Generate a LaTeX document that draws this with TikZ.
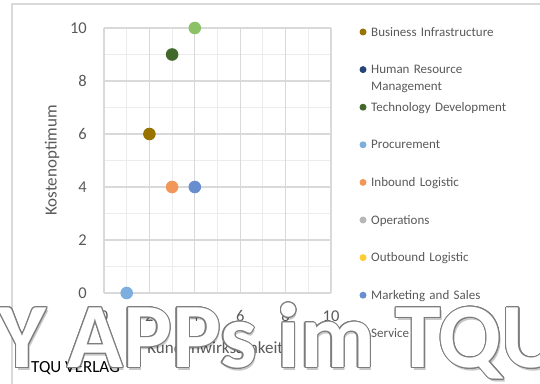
\documentclass[tikz,border=0pt]{standalone}
\usepackage{fontspec}
\setmainfont{Carlito}
\usepackage{xcolor}
\usepackage{tikz}
\usetikzlibrary{positioning,calc}
\definecolor{chartText}{RGB}{89, 89, 89}
\definecolor{gridMajor}{RGB}{217, 217, 217}
\definecolor{gridMinor}{RGB}{236, 236, 236}
\definecolor{wmEdge}{RGB}{125, 125, 125}
\definecolor{serBusiness}{HTML}{997300}
\definecolor{serHuman}{HTML}{264478}
\definecolor{serTech}{HTML}{43682B}
\definecolor{serProcure}{HTML}{7CAFDD}
\definecolor{serInbound}{HTML}{F1975A}
\definecolor{serOperations}{HTML}{B7B7B7}
\definecolor{serOutbound}{HTML}{FFCD33}
\definecolor{serMarketing}{HTML}{698ED0}
\definecolor{serService}{HTML}{8CC168}
\tikzset{
  dot/.style={circle, fill=#1, inner sep=0pt, minimum size=12.6pt},
  legdot/.style={circle, fill=#1, inner sep=0pt, minimum size=7pt},
  legtext/.style={anchor=base west, inner sep=0pt, text width=160pt, align=left,
    text=chartText, font=\fontsize{13}{17}\selectfont},
  ticklabel/.style={text=chartText, inner sep=0pt, font=\fontsize{16.5}{16.5}\selectfont},
  axistitle/.style={text=chartText, inner sep=0pt, font=\fontsize{17}{17}\selectfont},
  wmark/.style={anchor=base west, inner sep=0pt, font=\fontsize{92}{92}\selectfont\bfseries}
}

\begin{document}
\begin{tikzpicture}[x=1pt, y=1pt]
    \useasboundingbox (0,0) rectangle (540,383);
    \clip (0,0) rectangle (540,383);
    % Chart frame (runs off the right and bottom edge)
    \draw[gridMajor, line width=1.3pt] (12,-20) -- (12,379) -- (560,379);
    % Plot area, in data units
    \begin{scope}[shift={(104,90)}, x=22.7pt, y=26.5pt]
        % Minor grid
        \foreach \v in {1,3,...,9} {
            \draw[gridMinor, line width=0.9pt] (\v,0) -- (\v,10);
            \draw[gridMinor, line width=0.9pt] (0,\v) -- (10,\v);
        }
        % Major grid and tick labels
        \foreach \v in {0,2,...,10} {
            \draw[gridMajor, line width=1.1pt] (\v,0) -- (\v,10);
            \draw[gridMajor, line width=1.1pt] (0,\v) -- (10,\v);
            \node[ticklabel, anchor=east] (ytick\v) at (-0.75,\v) {\v};
            \node[ticklabel] (xtick\v) at (\v,-0.87) {\v};
        }
        % Axis titles
        \node[axistitle, rotate=90] (ytitle) at (-2.29,5) {Kostenoptimum};
        \node[axistitle] (xtitle) at (4.9,-2.08) {Kundenwirksamkeit};
        % Data points
        \node[dot=serProcure] (pProcure) at (1,0) {};
        \node[dot=serBusiness] (pBusiness) at (2,6) {};
        \node[dot=serTech] (pTech) at (3,9) {};
        \node[dot=serInbound] (pInbound) at (3,4) {};
        \node[dot=serMarketing] (pMarketing) at (4,4) {};
        \node[dot=serService] (pService) at (4,10) {};
    \end{scope}
    % Legend
    \foreach \c/\t [count=\i] in {serBusiness/Business Infrastructure,
        serHuman/Human Resource\\Management, serTech/Technology Development,
        serProcure/Procurement, serInbound/Inbound Logistic,
        serOperations/Operations, serOutbound/Outbound Logistic,
        serMarketing/Marketing and Sales, serService/Service} {
        \node[legdot=\c] (legdot\i) at (363,{351-37.6*(\i-1)}) {};
        \node[legtext] (legtext\i) at (371,{346.8-37.6*(\i-1)}) {\t};
    }
    % Publisher line
    \node[anchor=base west, inner sep=0pt, font=\fontsize{17}{17}\selectfont] (verlag) at (31,11) {TQU VERLAG};
    % Watermark: soft shadow, grey rim, white letters on top
    \node[wmark, text=black, opacity=0.22] (wmShadow) at (0,12.5) {Y APPs im TQU};
    \foreach \a [count=\i] in {0,22.5,...,337.5}
        \node[wmark, text=wmEdge] (wmEdge\i) at ($(-1.5,15.5)+(\a:1.1)$) {Y APPs im TQU};
    \node[wmark, text=white] (wm) at (-1.5,15.5) {Y APPs im TQU};
\end{tikzpicture}
\end{document}
